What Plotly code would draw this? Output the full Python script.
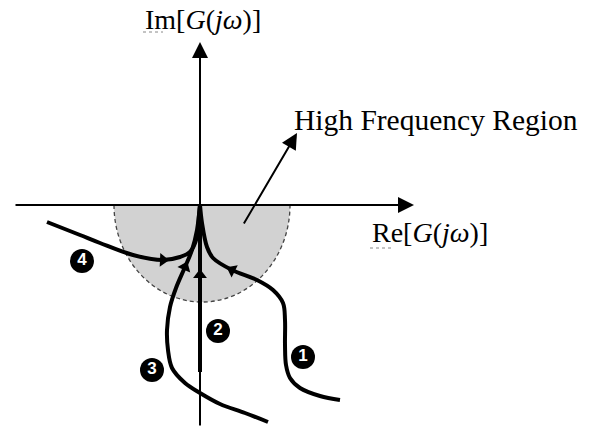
import math
import plotly.graph_objects as go

# ---------------- data (Re, Im coordinates of the sketch) ----------------
curve1_re = [1.40, 1.20, 1.00, 0.90, 0.86, 0.85, 0.85, 0.83, 0.73, 0.57, 0.32, 0.13, 0.07, 0.02, 0.00]
curve1_im = [-1.95, -1.91, -1.83, -1.73, -1.60, -1.40, -1.15, -0.98, -0.85, -0.75, -0.65, -0.53, -0.42, -0.18, 0.00]

curve2_re = [0.00, 0.00, 0.00]
curve2_im = [-1.67, -0.70, 0.00]

curve3_re = [0.68, 0.45, 0.20, 0.00, -0.15, -0.28, -0.32, -0.33, -0.30, -0.24, -0.15, -0.08, -0.03, 0.00]
curve3_im = [-2.17, -2.08, -1.99, -1.88, -1.78, -1.63, -1.45, -1.25, -1.02, -0.83, -0.62, -0.45, -0.25, 0.00]

curve4_re = [-1.53, -1.20, -1.00, -0.67, -0.37, -0.20, -0.10, -0.03, -0.01, 0.00]
curve4_im = [-0.17, -0.30, -0.38, -0.50, -0.55, -0.52, -0.47, -0.32, -0.10, 0.00]

curves = [(curve1_re, curve1_im), (curve2_re, curve2_im), (curve3_re, curve3_im), (curve4_re, curve4_im)]
arrow_index = [10, 1, 10, 4]          # point on each curve where the direction arrow sits

badge_labels = ["1", "2", "3", "4"]
badge_re = [1.03, 0.18, -0.48, -1.18]
badge_im = [-1.52, -1.26, -1.65, -0.56]

region_center = 0.02
region_rx = 0.88
region_ry = 0.97

re_axis = [-1.86, 2.14]
im_axis = [-2.22, 1.63]
hf_arrow_tail = (0.43, -0.20)
hf_arrow_tip = (0.97, 0.72)

# ---------------- figure ----------------
fig = go.Figure()

# shaded high-frequency half-ellipse (cubic Bezier approximation)
k = 0.5523
c, rx, ry = region_center, region_rx, region_ry
path = (f"M {c-rx},0 C {c-rx},{-k*ry} {c-k*rx},{-ry} {c},{-ry} "
        f"C {c+k*rx},{-ry} {c+rx},{-k*ry} {c+rx},0 Z")
fig.add_shape(type="path", path=path, xref="x", yref="y", layer="below",
              fillcolor="#d2d2d2", line=dict(color="#444444", width=1.3, dash="4px,3px"))

for re, im in curves:
    fig.add_trace(go.Scatter(x=re, y=im, mode="lines",
                             line=dict(color="black", width=4, shape="spline", smoothing=1.0),
                             hoverinfo="skip", showlegend=False))

# direction arrows on curves
for (re, im), i in zip(curves, arrow_index):
    dx = re[i + 1] - re[i - 1]
    dy = im[i + 1] - im[i - 1]
    ang = math.degrees(math.atan2(dx, dy))
    fig.add_trace(go.Scatter(x=[re[i]], y=[im[i]], mode="markers",
                             marker=dict(symbol="triangle-up", size=12, angle=ang, color="black"),
                             hoverinfo="skip", showlegend=False))

# numbered badges
fig.add_trace(go.Scatter(x=badge_re, y=badge_im, mode="markers+text", text=badge_labels,
                         textposition="middle center",
                         marker=dict(size=24, color="black"),
                         textfont=dict(color="white", size=17, family="Liberation Sans"),
                         texttemplate="<b>%{text}</b>",
                         hoverinfo="skip", showlegend=False))

# wavy (spell-check style) underlines under "Im" and "Re"
fig.add_trace(go.Scatter(x=[-0.57, -0.37], y=[1.73, 1.73], mode="lines",
                         line=dict(color="#888888", width=1, dash="dot"),
                         hoverinfo="skip", showlegend=False))
fig.add_trace(go.Scatter(x=[1.70, 1.92], y=[-0.43, -0.43], mode="lines",
                         line=dict(color="#888888", width=1, dash="dot"),
                         hoverinfo="skip", showlegend=False))

# axes with arrows
fig.add_annotation(x=re_axis[1], y=0, ax=re_axis[0], ay=0, xref="x", yref="y", axref="x", ayref="y",
                   text="", showarrow=True, arrowhead=2, arrowsize=1.6, arrowwidth=2, arrowcolor="black")
fig.add_annotation(x=0, y=im_axis[1], ax=0, ay=im_axis[0], xref="x", yref="y", axref="x", ayref="y",
                   text="", showarrow=True, arrowhead=2, arrowsize=1.6, arrowwidth=2, arrowcolor="black")
fig.add_annotation(x=hf_arrow_tip[0], y=hf_arrow_tip[1], ax=hf_arrow_tail[0], ay=hf_arrow_tail[1],
                   xref="x", yref="y", axref="x", ayref="y",
                   text="", showarrow=True, arrowhead=2, arrowsize=1.6, arrowwidth=2, arrowcolor="black")

serif = dict(family="Liberation Serif, Times New Roman, serif", size=28, color="black")
fig.add_annotation(x=0.03, y=1.86, xref="x", yref="y", showarrow=False,
                   text="Im[<i>G</i>(<i>jω</i>)]", font=serif)
fig.add_annotation(x=2.30, y=-0.27, xref="x", yref="y", showarrow=False,
                   text="Re[<i>G</i>(<i>jω</i>)]", font=serif)
fig.add_annotation(x=2.36, y=0.85, xref="x", yref="y", showarrow=False,
                   text="High Frequency Region", font=dict(serif, size=29.5))

fig.update_layout(width=598, height=432, margin=dict(l=0, r=0, t=0, b=0),
                  plot_bgcolor="white", paper_bgcolor="white",
                  xaxis=dict(range=[-2.0, 3.98], visible=False, fixedrange=True),
                  yaxis=dict(range=[-2.27, 2.05], visible=False, fixedrange=True))

# remove the default 8px page margin so the figure fills the window exactly
fig.write_html("out.html", config={"displayModeBar": False},
               post_script="document.body.style.margin='0';document.body.style.overflow='hidden';")
